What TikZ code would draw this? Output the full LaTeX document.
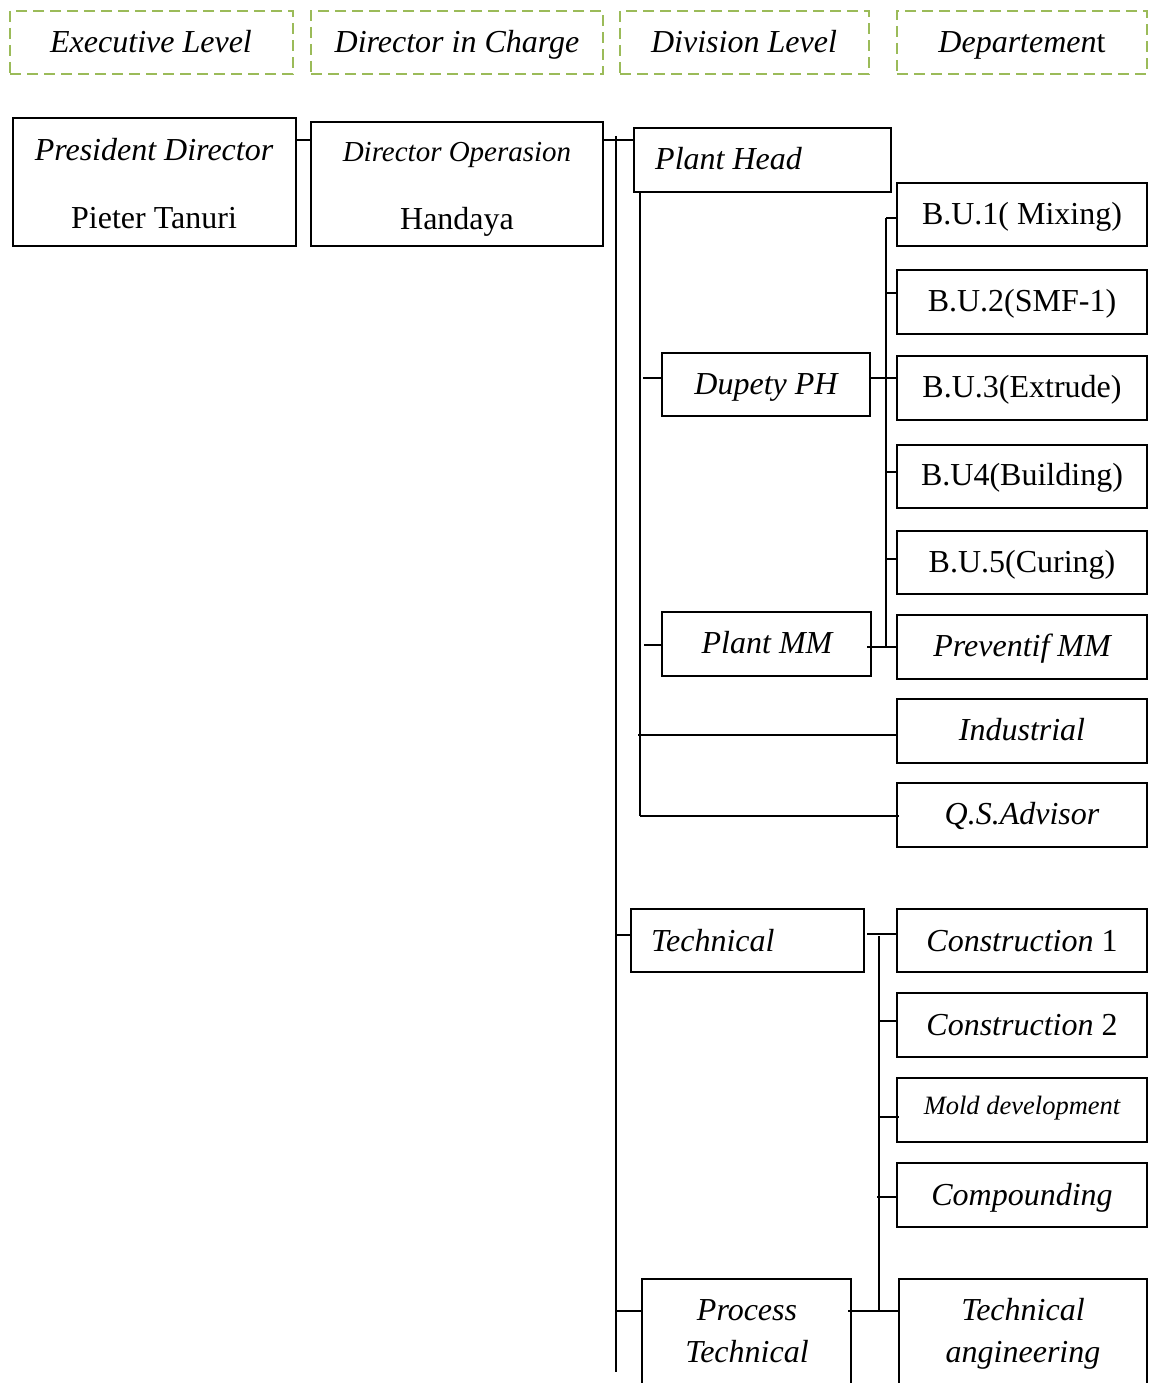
\documentclass[tikz,border=0pt]{standalone}
\usepackage{fontspec}
\setmainfont{Liberation Serif}
\usetikzlibrary{calc}
\definecolor{hgreen}{RGB}{155,187,89}
\tikzset{
  bx/.style={draw=black, line width=1.9pt, anchor=north west, inner sep=0pt, outer sep=0pt},
  hd/.style={draw=hgreen, line width=2.8pt, dash pattern=on 11pt off 6pt, anchor=north west, inner sep=0pt, outer sep=0pt},
  ln/.style={line width=1.9pt},
  ti/.style={anchor=base, inner sep=0pt, yshift=-1.5pt, font=\fontsize{32}{38}\selectfont\itshape},
  tr/.style={anchor=base, inner sep=0pt, yshift=-1.5pt, font=\fontsize{32}{38}\selectfont},
}
\begin{document}
\begin{tikzpicture}[x=1pt,y=-1pt]
\useasboundingbox (0,0) rectangle (1151,1383);
\clip (0,0) rectangle (1151,1383);
% header boxes
\node[hd, minimum width=283pt, minimum height=63pt] (h1) at (10,11) {};
\node[hd, minimum width=292pt, minimum height=63pt] (h2) at (311,11) {};
\node[hd, minimum width=249pt, minimum height=63pt] (h3) at (620,11) {};
\node[hd, minimum width=250pt, minimum height=63pt] (h4) at (897,11) {};
\node[ti] (th1) at (151,51) {Executive Level};
\node[ti] (th2) at (457,51) {Director in Charge};
\node[ti] (th3) at (744,51) {Division Level};
\node[ti] (th4) at (1022,51) {Departemen{\upshape t}};
% boxes
\node[bx, minimum width=283pt, minimum height=128pt] (pd) at (13,118) {};
\node[bx, minimum width=292pt, minimum height=124pt] (do) at (311,122) {};
\node[bx, minimum width=257pt, minimum height=64pt] (ph) at (634,128) {};
\node[bx, minimum width=250pt, minimum height=63pt] (bu1) at (897,183) {};
\node[bx, minimum width=250pt, minimum height=64pt] (bu2) at (897,270) {};
\node[bx, minimum width=208pt, minimum height=63pt] (dp) at (662,353) {};
\node[bx, minimum width=250pt, minimum height=64pt] (bu3) at (897,356) {};
\node[bx, minimum width=250pt, minimum height=63pt] (bu4) at (897,445) {};
\node[bx, minimum width=250pt, minimum height=63pt] (bu5) at (897,531) {};
\node[bx, minimum width=209pt, minimum height=64pt] (pm) at (662,612) {};
\node[bx, minimum width=250pt, minimum height=64pt] (pv) at (897,615) {};
\node[bx, minimum width=250pt, minimum height=64pt] (ind) at (897,699) {};
\node[bx, minimum width=250pt, minimum height=64pt] (qs) at (897,783) {};
\node[bx, minimum width=233pt, minimum height=63pt] (te) at (631,909) {};
\node[bx, minimum width=250pt, minimum height=63pt] (c1) at (897,909) {};
\node[bx, minimum width=250pt, minimum height=64pt] (c2) at (897,993) {};
\node[bx, minimum width=250pt, minimum height=64pt] (md) at (897,1078) {};
\node[bx, minimum width=250pt, minimum height=64pt] (cp) at (897,1163) {};
\node[bx, minimum width=209pt, minimum height=150pt] (pt) at (642,1279) {};
\node[bx, minimum width=248pt, minimum height=150pt] (tae) at (899,1279) {};
% texts
\node[ti] (tpd1) at (154,159) {President Director};
\node[tr] (tpd2) at (154,227) {Pieter Tanuri};
\node[ti, font=\fontsize{29}{34}\selectfont\itshape] (tdo1) at (457,160) {Director Operasion};
\node[tr] (tdo2) at (457,228) {Handaya};
\node[ti, anchor=base west] (tph) at (655,168) {Plant Head};
\node[tr] (tbu1) at (1022,223) {B.U.1( Mixing)};
\node[tr] (tbu2) at (1022,310) {B.U.2(SMF-1)};
\node[ti] (tdp) at (766,393) {Dupety PH};
\node[tr] (tbu3) at (1022,396) {B.U.3(Extrude)};
\node[tr] (tbu4) at (1022,484) {B.U4(Building)};
\node[tr] (tbu5) at (1022,571) {B.U.5(Curing)};
\node[ti] (tpm) at (767,652) {Plant MM};
\node[ti] (tpv) at (1022,655) {Preventif MM};
\node[ti] (tind) at (1022,739) {Industrial};
\node[ti] (tqs) at (1022,823) {Q.S.Advisor};
\node[ti, anchor=base west] (tte) at (651,950) {Technical};
\node[ti] (tc1) at (1022,950) {Construction {\upshape 1}};
\node[ti] (tc2) at (1022,1034) {Construction {\upshape 2}};
\node[ti, font=\fontsize{26.5}{32}\selectfont\itshape] (tmd) at (1022,1113) {Mold development};
\node[ti] (tcp) at (1022,1204) {Compounding};
\node[ti] (tpt1) at (747,1319) {Process};
\node[ti] (tpt2) at (747,1361) {Technical};
\node[ti] (tta1) at (1023,1319) {Technical};
\node[ti] (tta2) at (1023,1361) {angineering};
% junction coordinates
\coordinate (trT) at (616,136);
\coordinate (trB) at (616,1372);
\coordinate (phT) at (640,192);
\coordinate (phB) at (640,816);
\coordinate (buT) at (886,218);
\coordinate (buB) at (886,648);
\coordinate (tcT) at (879,936);
\coordinate (tcB) at (879,1311);
% connectors
\draw[ln] (pd.east |- 0,140) -- (do.west |- 0,140);
\draw[ln] ($(do.east |- 0,140)+(-1,0)$) -- (ph.west |- 0,140);
\draw[ln] (trT) -- (trB);
\draw[ln] (phT) -- (phB);
\draw[ln] (643,378) -- (dp.west |- 0,378);
\draw[ln] (dp.east |- 0,378) -- (bu3.west |- 0,378);
\draw[ln] (buT) -- (buB);
\draw[ln] (buT) -- (bu1.west |- buT);
\draw[ln] (886,293) -- (bu2.west |- 0,293);
\draw[ln] (886,472) -- (bu4.west |- 0,472);
\draw[ln] (886,559) -- (bu5.west |- 0,559);
\draw[ln] (644,645) -- (pm.west |- 0,645);
\draw[ln] ($(pm.east |- 0,647)+(-4,0)$) -- (pv.west |- 0,647);
\draw[ln] (638,735) -- (ind.west |- 0,735);
\draw[ln] (phB) -- ($(qs.west |- phB)+(2,0)$);
\draw[ln] (616,935) -- (te.west |- 0,935);
\draw[ln] ($(te.east |- 0,934)+(3,0)$) -- (c1.west |- 0,934);
\draw[ln] (tcT) -- (tcB);
\draw[ln] (879,1021) -- (c2.west |- 0,1021);
\draw[ln] (879,1117) -- ($(md.west |- 0,1117)+(2,0)$);
\draw[ln] (877,1197) -- (cp.west |- 0,1197);
\draw[ln] (616,1311) -- (pt.west |- 0,1311);
\draw[ln] ($(pt.east |- tcB)+(-3,0)$) -- (tae.west |- tcB);
\end{tikzpicture}
\end{document}
